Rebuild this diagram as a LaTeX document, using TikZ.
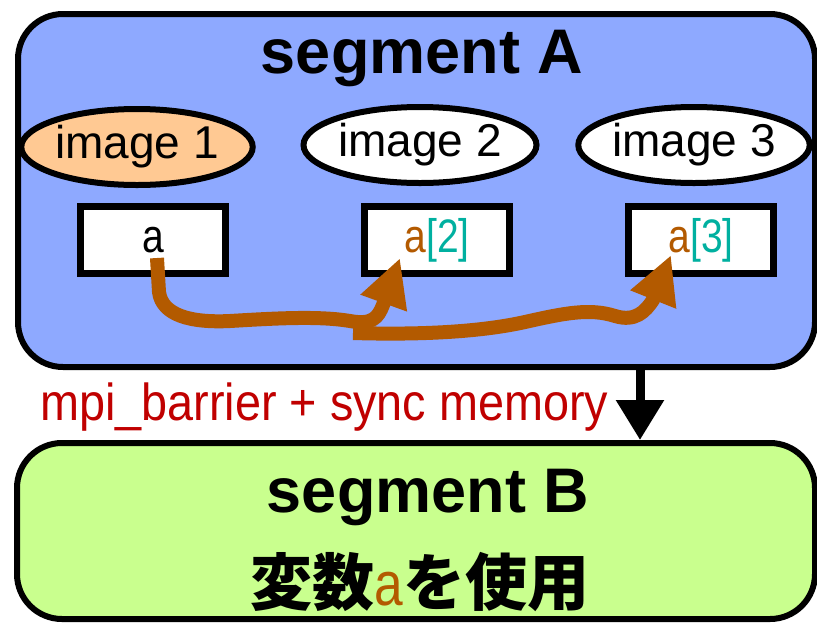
\documentclass[tikz,border=0pt]{standalone}
\usepackage{fontspec}
\setmainfont{Liberation Sans}
\newfontfamily\narrowA[FakeStretch=0.83]{Liberation Sans}
\newfontfamily\narrowB[FakeStretch=0.90]{Liberation Sans}
\newfontfamily\cjk{Noto Sans CJK JP}
\usetikzlibrary{shapes.geometric,arrows.meta}
\definecolor{segblue}{HTML}{8EA9FF}
\definecolor{seggreen}{HTML}{C9FF8E}
\definecolor{imgorange}{HTML}{FFC993}
\definecolor{flow}{HTML}{B35A00}
\definecolor{teal2}{HTML}{00B0A0}
\definecolor{darkred}{HTML}{C00000}
\tikzset{
  segbox/.style={draw=black, line width=6pt, rounded corners=45pt},
  imgell/.style={ellipse, draw=black, line width=6pt, fill=white, minimum height=76pt, inner sep=0pt,
                 font=\fontsize{46}{46}\selectfont},
  varbox/.style={rectangle, draw=black, line width=7pt, fill=white, minimum width=145pt, minimum height=67pt,
                 inner sep=0pt, font=\narrowA\fontsize{47}{47}\selectfont},
  title/.style={font=\bfseries\fontsize{63}{63}\selectfont, inner sep=0pt, anchor=base},
  flowline/.style={draw=flow, line width=14pt, line cap=butt, line join=round,
                   -{Triangle[length=48pt,width=46pt]}},
  syncarrow/.style={draw=black, line width=9pt, -{Triangle[length=40pt,width=46pt]}}
}
\begin{document}
\begin{tikzpicture}[x=1pt,y=-1pt]
\useasboundingbox (0,0) rectangle (817,622);
% segment A
\node[segbox, fill=segblue, minimum width=797pt, minimum height=353pt, anchor=north west] (segA) at (15,11) {};
\node[title] (titA) at (422,73) {segment A};
% images
\node[imgell, fill=imgorange, minimum width=220pt] (img1) at (137,147) {image 1};
\node[imgell, minimum width=233pt] (img2) at (420,145) {image 2};
\node[imgell, minimum width=227pt] (img3) at (694,145) {image 3};
% variable boxes
\node[varbox] (va1) at (153,240) {a};
\node[varbox] (va2) at (437,240) {\textcolor{flow}{a}\textcolor{teal2}{[2]}};
\node[varbox] (va3) at (701,240) {\textcolor{flow}{a}\textcolor{teal2}{[3]}};
% flow arrows
\coordinate (s1) at (157,258);
\coordinate (t1) at (400,258);
\coordinate (s2) at (353,333);
\coordinate (t2) at (671,255);
\draw[flowline] (s1) -- (159,292) .. controls (162,315) and (190,323) .. (230,321)
  .. controls (280,318) and (320,316) .. (350,321)
  .. controls (372,325) and (378,318) .. (383,305) -- (t1);
\draw[flowline] (s2) .. controls (420,335) and (480,332) .. (525,322)
  .. controls (565,313) and (590,308) .. (615,316)
  .. controls (635,322) and (645,312) .. (653,300) -- (t2);
% segment B
\node[segbox, fill=seggreen, minimum width=798pt, minimum height=176pt, anchor=north west] (segB) at (14,440) {};
\node[title] (titB) at (428,512) {segment B};
\node[font=\cjk\bfseries\fontsize{62}{62}\selectfont, inner sep=0pt] (useA) at (420,582)
  {変数{\narrowA\mdseries\textcolor{flow}{a}}を使用};
% sync arrow
\coordinate (arrTop) at (640,364);
\draw[syncarrow] (arrTop) -- (arrTop |- segB.north);
\node[font=\narrowB\fontsize{52}{52}\selectfont, text=darkred, inner sep=0pt, anchor=base west] (sync) at (40,420)
  {mpi\_barrier + sync memory};
\end{tikzpicture}
\end{document}
